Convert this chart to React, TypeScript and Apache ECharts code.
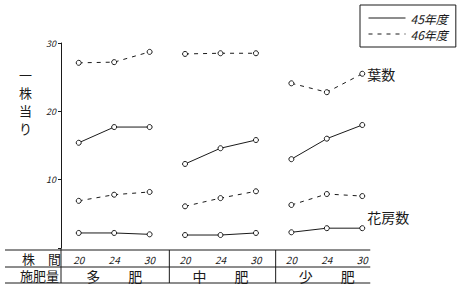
import React, { useEffect, useRef } from 'react';
import * as echarts from 'echarts';

const groups = ['多　　肥', '中　　肥', '少　　肥'];
const spacings = ['20', '24', '30'];
const leaf45 = [15.4, 17.7, 17.7, 12.3, 14.6, 15.8, 13.0, 16.0, 18.0];
const leaf46 = [27.1, 27.2, 28.7, 28.4, 28.5, 28.5, 24.1, 22.8, 25.5];
const flower45 = [2.2, 2.2, 2.0, 1.9, 1.9, 2.2, 2.3, 2.9, 2.9];
const flower46 = [6.9, 7.8, 8.2, 6.1, 7.3, 8.3, 6.3, 7.9, 7.6];
const yMin = 0;
const yMax = 30;
const yInterval = 10;
const legendNames = ['45年度', '46年度'];
const leafLabel = '葉数';
const flowerLabel = '花房数';
const yName = '一株当り';
const rowLabels = ['株　間', '施肥量'];

const FONT = '"Noto Sans CJK JP", "Noto Sans", sans-serif';
const INK = '#1a1a1a';

export default function App() {
  const ref = useRef<HTMLDivElement>(null);
  useEffect(() => {
    if (!ref.current) return;
    document.body.style.margin = '0';
    const chart = echarts.init(ref.current, undefined, { renderer: 'svg' });
    const categories = groups.flatMap((g, gi) => spacings.map((s) => gi + '|' + s));

    const measures = [
      { values: leaf46, year: 1, label: leafLabel, offset: [0, 0] },
      { values: leaf45, year: 0 },
      { values: flower46, year: 1 },
      { values: flower45, year: 0, label: flowerLabel, offset: [0, -11] },
    ] as any[];

    const series: any[] = [];
    measures.forEach((m) => {
      groups.forEach((_, gi) => {
        const isLast = gi === groups.length - 1;
        series.push({
          type: 'line',
          name: legendNames[m.year],
          xAxisIndex: 0,
          yAxisIndex: 0,
          data: m.values.map((v: number, i: number) => (Math.floor(i / spacings.length) === gi ? v : '-')),
          symbol: 'circle',
          symbolSize: 5,
          connectNulls: false,
          lineStyle: { color: INK, width: 1, type: m.year === 1 ? [4, 5] : 'solid' },
          itemStyle: { color: '#fff', borderColor: INK, borderWidth: 1 },
          endLabel: m.label && isLast
            ? {
                show: true,
                formatter: m.label,
                fontFamily: FONT,
                fontSize: 14,
                color: INK,
                distance: 5,
                offset: m.offset,
              }
            : { show: false },
        });
      });
    });

    const option: any = {
      animation: false,
      backgroundColor: '#fff',
      grid: { left: 61, right: 86, top: 43, bottom: 38, containLabel: false },
      legend: {
        data: legendNames,
        orient: 'vertical',
        left: 360,
        top: 5,
        padding: [6, 8, 6, 8],
        itemWidth: 37,
        itemHeight: 10,
        itemGap: 2,
        borderColor: INK,
        borderWidth: 1,
        borderRadius: 0,
        selectedMode: false,
        itemStyle: { opacity: 0 },
        lineStyle: { color: INK, width: 1 },
        textStyle: { fontSize: 12, fontStyle: 'italic', color: INK, fontFamily: FONT, lineHeight: 14 },
      },
      xAxis: [
        {
          type: 'category',
          data: categories,
          boundaryGap: true,
          axisLine: { show: false },
          axisTick: { show: false },
          splitLine: { show: false },
          axisLabel: {
            margin: 6,
            interval: 0,
            fontSize: 10,
            fontStyle: 'italic',
            color: INK,
            fontFamily: FONT,
            formatter: (v: string) => v.split('|')[1],
          },
        },
        {
          type: 'category',
          data: groups,
          position: 'bottom',
          boundaryGap: true,
          axisLine: { show: false },
          axisTick: { show: false },
          splitLine: { show: false },
          axisLabel: { margin: 21, interval: 0, fontSize: 14, color: INK, fontFamily: FONT },
        },
      ],
      yAxis: {
        type: 'value',
        min: yMin,
        max: yMax,
        interval: yInterval,
        axisLine: { show: true, lineStyle: { color: INK, width: 1 } },
        axisTick: { show: true, length: 3, lineStyle: { color: INK } },
        splitLine: { show: false },
        axisLabel: {
          margin: 5,
          fontSize: 9,
          fontStyle: 'italic',
          color: INK,
          fontFamily: FONT,
          formatter: (v: number) => (v === yMin ? '' : String(v)),
        },
      },
      series,
    };
    chart.setOption(option);

    // table decoration from the axis scales
    const cx = (i: number) => chart.convertToPixel({ xAxisIndex: 0 }, i) as number;
    const y0 = chart.convertToPixel({ yAxisIndex: 0 }, yMin) as number;
    const step = cx(1) - cx(0);
    const axisX = cx(0) - step / 2;
    const tableRight = cx(categories.length - 1) + 8;
    const tableLeft = 5;
    const rowTop = y0 + 2;
    const rowMid = y0 + 19;
    const rowBot = y0 + 35;
    const lineStyle = { stroke: INK, lineWidth: 1 };
    const graphic: any[] = [
      { type: 'line', shape: { x1: tableLeft, y1: rowTop, x2: tableRight, y2: rowTop }, style: lineStyle },
      { type: 'line', shape: { x1: tableLeft, y1: rowMid, x2: tableRight, y2: rowMid }, style: lineStyle },
      { type: 'line', shape: { x1: tableLeft, y1: rowBot, x2: tableRight, y2: rowBot }, style: lineStyle },
      { type: 'line', shape: { x1: axisX, y1: y0, x2: axisX, y2: rowBot }, style: lineStyle },
    ];
    for (let g = 1; g < groups.length; g++) {
      const i = g * spacings.length;
      const x = (cx(i - 1) + cx(i)) / 2 + 2;
      graphic.push({ type: 'line', shape: { x1: x, y1: rowTop, x2: x, y2: rowBot }, style: lineStyle });
    }
    graphic.push({
      type: 'text',
      left: 22,
      top: rowTop + 1,
      style: { text: rowLabels[0], fontSize: 13, lineHeight: 15, fontFamily: FONT, fill: INK },
    });
    graphic.push({
      type: 'text',
      left: 20,
      top: rowMid + 1,
      style: { text: rowLabels[1], fontSize: 13, lineHeight: 15, fontFamily: FONT, fill: INK },
    });
    yName.split('').forEach((ch, k) => {
      graphic.push({
        type: 'text',
        left: 19,
        top: 67 + k * 18,
        style: { text: ch, fontSize: 13, lineHeight: 14, fontFamily: FONT, fill: INK },
      });
    });
    chart.setOption({ graphic });

    return () => chart.dispose();
  }, []);
  return <div ref={ref} style={{ width: 466, height: 286, position: 'fixed', left: 0, top: 0 }} />;
}
